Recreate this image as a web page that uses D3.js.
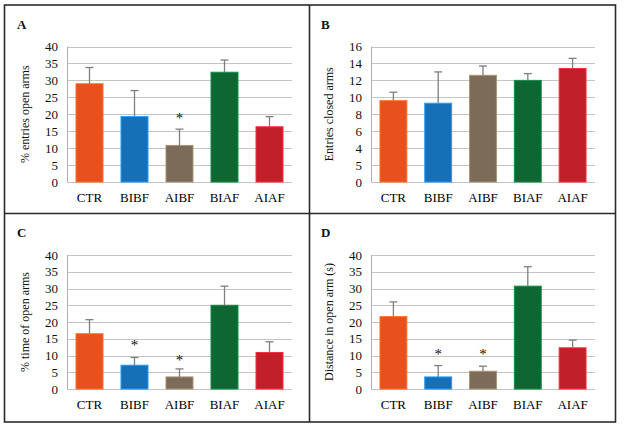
<!DOCTYPE html>
<html>
<head>
<meta charset="utf-8">
<script src="https://cdn.jsdelivr.net/npm/d3@7"></script>
<style>
  body { margin: 0; background: #fff; }
  svg { display: block; }
</style>
</head>
<body>
<svg id="chart" width="624" height="428"></svg>
<script>
// groups on the x axis
const categories = ["CTR", "BIBF", "AIBF", "BIAF", "AIAF"];
const barColors = ["#E8501E", "#1670B8", "#7B6B58", "#0E6633", "#C11F2A"];

// A: % entries open arms
const valuesA = [29, 19.3, 10.8, 32.4, 16.3];
const errTopA = [33.8, 27, 15.6, 36, 19.3];
const starsA = [null, null, 19.5, null, null];

// B: entries closed arms (the "5" at 2 is in the original)
const valuesB = [9.6, 9.3, 12.6, 12, 13.4];
const errTopB = [10.6, 13, 13.7, 12.8, 14.6];
const starsB = [null, null, null, null, null];
const ticksB = [0, 2, 4, 6, 8, 10, 12, 14, 16];
const tickLabelsB = ["0", "5", "4", "6", "8", "10", "12", "14", "16"];

// C: % time of open arms
const valuesC = [16.5, 7.1, 3.6, 25, 10.9];
const errTopC = [20.7, 9.4, 6, 30.7, 14.1];
const starsC = [null, 13.7, 9.3, null, null];

// D: distance in open arm (s)
const valuesD = [21.6, 3.6, 5.3, 30.7, 12.3];
const errTopD = [26, 7, 6.8, 36.5, 14.6];
const starsD = [null, 11, 11, null, null];

const ticks40 = [0, 5, 10, 15, 20, 25, 30, 35, 40];

const panels = [
  { letter: "A", title: "% entries open arms", values: valuesA, err: errTopA, stars: starsA,
    max: 40, ticks: ticks40, labels: ticks40.map(String), x0: 67, x1: 292, y0: 46.5, y1: 182 },
  { letter: "B", title: "Entries closed arms", values: valuesB, err: errTopB, stars: starsB,
    max: 16, ticks: ticksB, labels: tickLabelsB, x0: 371, x1: 595, y0: 46.5, y1: 182 },
  { letter: "C", title: "% time of open arms", values: valuesC, err: errTopC, stars: starsC,
    max: 40, ticks: ticks40, labels: ticks40.map(String), x0: 67, x1: 292, y0: 255, y1: 389 },
  { letter: "D", title: "Distance in open arm (s)", values: valuesD, err: errTopD, stars: starsD,
    max: 40, ticks: ticks40, labels: ticks40.map(String), x0: 371, x1: 595, y0: 255, y1: 389 }
];

const svg = d3.select("#chart");
const font = "'Liberation Serif', 'Times New Roman', serif";

// frame around the four panels
const frame = svg.append("g").attr("fill", "none").attr("stroke", "#2b2b2b").attr("stroke-width", 1.6);
frame.append("rect").attr("x", 4.5).attr("y", 5).attr("width", 611).attr("height", 417);
frame.append("line").attr("x1", 309.5).attr("x2", 309.5).attr("y1", 5).attr("y2", 422);
frame.append("line").attr("x1", 4.5).attr("x2", 615.5).attr("y1", 213.5).attr("y2", 213.5);

panels.forEach(p => {
  const g = svg.append("g").style("font-family", font);

  const x = d3.scaleBand().domain(categories).range([p.x0, p.x1]).paddingInner(0.4).paddingOuter(0.2);
  const y = d3.scaleLinear().domain([0, p.max]).range([p.y1, p.y0]);

  // gridlines
  g.append("g")
    .selectAll("line")
    .data(p.ticks)
    .join("line")
    .attr("x1", p.x0).attr("x2", p.x1)
    .attr("y1", d => Math.round(y(d)) + 0.5).attr("y2", d => Math.round(y(d)) + 0.5)
    .attr("stroke", "#c4c4c4").attr("stroke-width", 1);

  // y axis line
  g.append("line")
    .attr("x1", p.x0 + 0.5).attr("x2", p.x0 + 0.5)
    .attr("y1", y(p.max)).attr("y2", y(0))
    .attr("stroke", "#b0b0b0");

  // tick labels
  g.append("g")
    .selectAll("text")
    .data(p.ticks)
    .join("text")
    .attr("x", p.x0 - 9)
    .attr("y", d => y(d))
    .attr("dy", "0.35em")
    .attr("text-anchor", "end")
    .attr("font-size", 13)
    .attr("fill", "#111")
    .text((d, i) => p.labels[i]);

  // bars
  g.append("g")
    .selectAll("rect")
    .data(p.values)
    .join("rect")
    .attr("x", (d, i) => x(categories[i]))
    .attr("width", x.bandwidth())
    .attr("y", d => y(d))
    .attr("height", d => y(0) - y(d))
    .attr("fill", (d, i) => barColors[i])
    .attr("stroke", (d, i) => d3.color(barColors[i]).brighter(0.9))
    .attr("stroke-width", 1);

  // error bars (upper only)
  const eb = g.append("g").attr("stroke", "#7f7f7f").attr("stroke-width", 1.3);
  p.err.forEach((e, i) => {
    const cx = x(categories[i]) + x.bandwidth() / 2;
    eb.append("line").attr("x1", cx).attr("x2", cx).attr("y1", y(p.values[i])).attr("y2", y(e));
    eb.append("line").attr("x1", cx - 4).attr("x2", cx + 4).attr("y1", y(e)).attr("y2", y(e));
  });

  // significance stars
  g.append("g")
    .selectAll("text")
    .data(p.stars.map((s, i) => ({ s, i })).filter(d => d.s !== null))
    .join("text")
    .attr("x", d => x(categories[d.i]) + x.bandwidth() / 2)
    .attr("y", d => y(d.s) + 7)
    .attr("text-anchor", "middle")
    .attr("font-size", 15)
    .attr("fill", "#111")
    .text("*");

  // category labels
  g.append("g")
    .selectAll("text")
    .data(categories)
    .join("text")
    .attr("x", d => x(d) + x.bandwidth() / 2)
    .attr("y", p.y1 + 20)
    .attr("text-anchor", "middle")
    .attr("font-size", 13)
    .attr("fill", "#000")
    .text(d => d);

  // y title
  g.append("text")
    .attr("transform", `translate(${p.x0 - 42},${(p.y0 + p.y1) / 2}) rotate(-90)`)
    .attr("dy", "0.35em")
    .attr("text-anchor", "middle")
    .attr("font-size", 12)
    .attr("fill", "#111")
    .text(p.title);

  // panel letter
  g.append("text")
    .attr("x", p.x0 - 50)
    .attr("y", p.y0 - 18)
    .attr("font-size", 13)
    .attr("font-weight", "bold")
    .attr("fill", "#111")
    .text(p.letter);
});
</script>
</body>
</html>
